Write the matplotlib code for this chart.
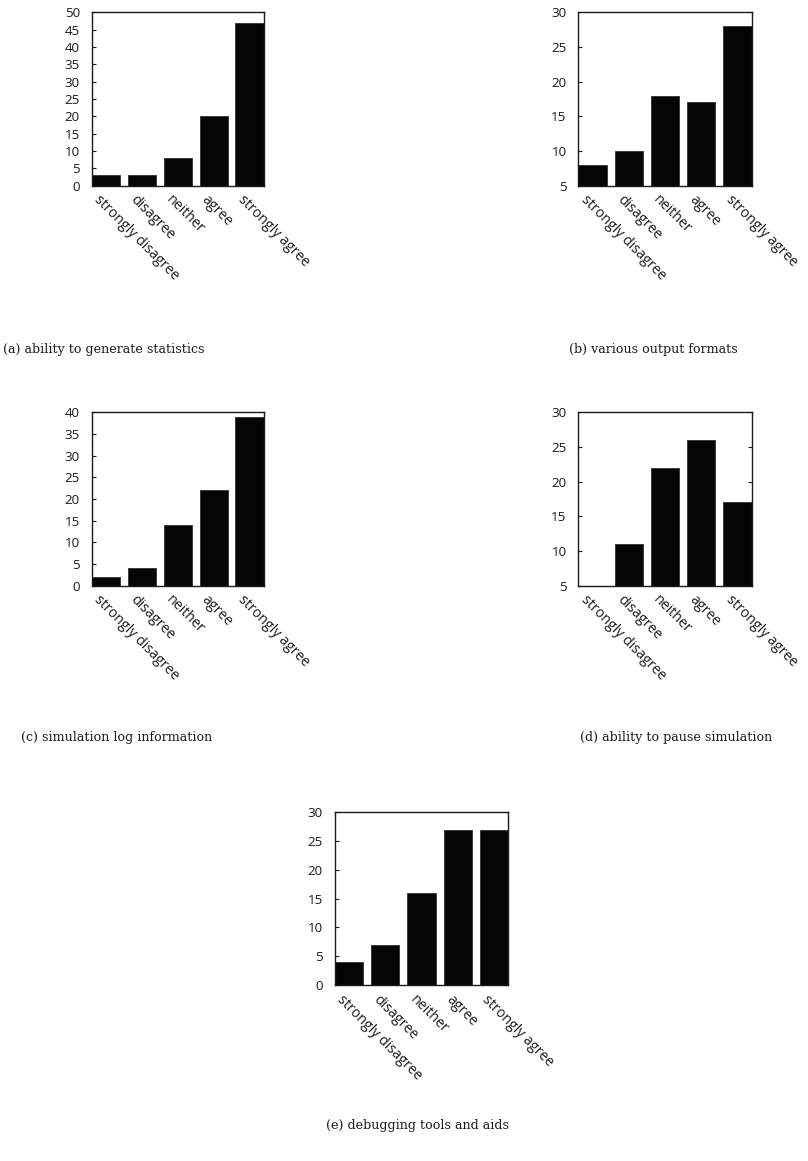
import matplotlib
matplotlib.use("Agg")
import matplotlib.pyplot as plt

categories = ["strongly disagree", "disagree", "neither", "agree", "strongly agree"]

stats_values = [3, 3, 8, 20, 47]
formats_values = [8, 10, 18, 17, 28]
log_values = [2, 4, 14, 22, 39]
pause_values = [5, 11, 22, 26, 17]
debug_values = [4, 7, 16, 27, 27]

captions = [
    "(a) ability to generate statistics",
    "(b) various output formats",
    "(c) simulation log information",
    "(d) ability to pause simulation",
    "(e) debugging tools and aids",
]

W, H = 808, 1161
fig = plt.figure(figsize=(W / 100, H / 100), dpi=100)

SANS = "Open Sans"
SERIF = "DejaVu Serif"
BAR_W = 0.78


def px_axes(x0, y0, x1, y1):
    return fig.add_axes([x0 / W, 1 - y1 / H, (x1 - x0) / W, (y1 - y0) / H])


def panel(rect, values, ylim, step):
    ax = px_axes(*rect)
    x = list(range(len(categories)))
    ax.bar(x, values, width=BAR_W, color="#050505", edgecolor="#303030",
           linewidth=0.6, zorder=2)
    ax.set_xlim(-BAR_W / 2, len(categories) - 1 + BAR_W / 2)
    ax.set_ylim(*ylim)
    ax.set_yticks(range(ylim[0], ylim[1] + 1, step))
    ax.tick_params(axis="y", direction="in", length=3, width=0.8,
                   left=True, right=True, labelsize=9.6, pad=8.5,
                   colors="#1a1a1a")
    for t in ax.get_yticklabels():
        t.set_fontfamily(SANS)
    ax.set_xticks(x)
    ax.tick_params(axis="x", length=0, pad=0)
    ax.set_xticklabels([])
    for xi, lab in zip(x, categories):
        ax.annotate(lab, xy=(xi, 0), xycoords=("data", "axes fraction"),
                    xytext=(-3, -5), textcoords="offset points",
                    rotation=-45, rotation_mode="anchor",
                    ha="left", va="top", fontsize=10.2, family=SANS,
                    color="#1a1a1a")
    for s in ax.spines.values():
        s.set_linewidth(1.0)
        s.set_color("#1a1a1a")
    return ax


panel((91.7, 12.3, 263.5, 185.7), stats_values, (0, 50), 5)
panel((578.3, 12.3, 751.7, 185.7), formats_values, (5, 30), 5)
panel((91.7, 412.3, 263.5, 585.7), log_values, (0, 40), 5)
panel((578.3, 412.3, 751.7, 585.7), pause_values, (5, 30), 5)
panel((334.7, 812.3, 508.3, 985.0), debug_values, (0, 30), 5)

caption_pos = [(104, 350), (653, 350), (117, 737), (676, 737), (417, 1126)]
for (cx, cy), text in zip(caption_pos, captions):
    fig.text(cx / W, 1 - cy / H, text, ha="center", va="center",
             fontsize=9.1, family=SERIF, color="#1a1a1a")

fig.savefig("out.png", dpi=100)
